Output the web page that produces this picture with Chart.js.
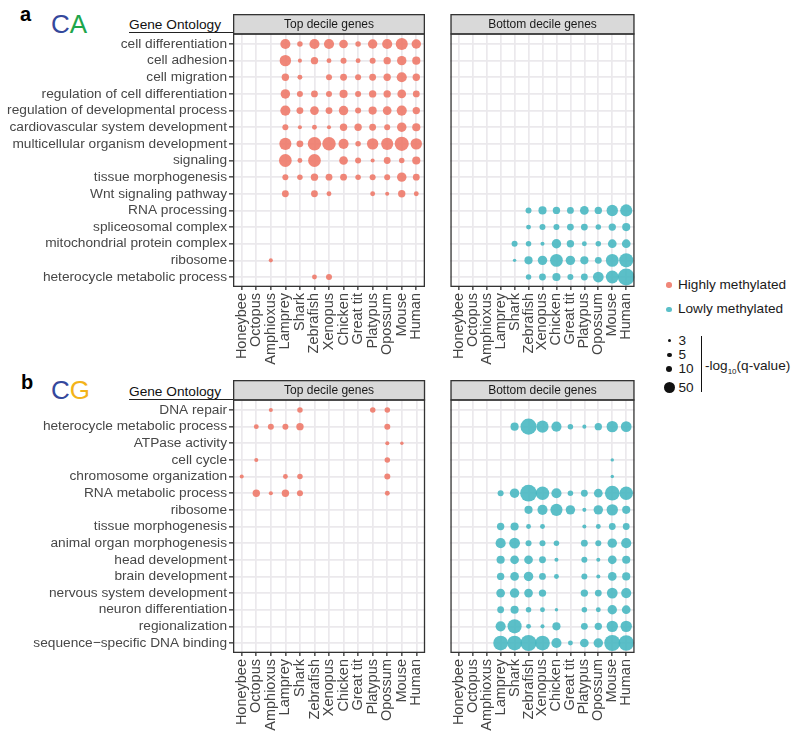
<!DOCTYPE html>
<html>
<head>
<meta charset="utf-8">
<script src="https://cdn.jsdelivr.net/npm/chart.js@4.4.1/dist/chart.umd.min.js"></script>
<style>
  body { margin: 0; background: #fff; width: 800px; height: 735px; position: relative; overflow: hidden;
         font-family: "Liberation Sans", Arial, sans-serif; }
  canvas { position: absolute; }
  .t { position: absolute; white-space: nowrap; }
  .dot { position: absolute; border-radius: 50%; }
</style>
</head>
<body>

<div class="t" style="left:20px;top:2px;font-size:20px;line-height:24px;font-weight:bold;">a</div>
<div class="t" style="left:51px;top:9px;font-size:26px;line-height:31px;"><span style="color:#34489c">C</span><span style="color:#1ea64c">A</span></div>
<div class="t" style="left:129px;top:17px;font-size:13.7px;line-height:16px;color:#111;">Gene Ontology</div>
<div class="t" style="left:129px;top:32px;width:104px;height:0;border-top:1.6px solid #222;"></div>

<div class="t" style="left:21px;top:370px;font-size:20px;line-height:24px;font-weight:bold;">b</div>
<div class="t" style="left:51px;top:375px;font-size:26px;line-height:31px;"><span style="color:#34489c">C</span><span style="color:#f3b319">G</span></div>
<div class="t" style="left:129px;top:384px;font-size:13.7px;line-height:16px;color:#111;">Gene Ontology</div>
<div class="t" style="left:129px;top:399px;width:104px;height:0;border-top:1.6px solid #222;"></div>

<canvas id="caTop" width="437" height="353" style="left:0;top:14px"></canvas>
<canvas id="caBottom" width="205" height="353" style="left:442px;top:14px"></canvas>
<canvas id="cgTop" width="437" height="353" style="left:0;top:380px"></canvas>
<canvas id="cgBottom" width="205" height="353" style="left:442px;top:380px"></canvas>

<div id="legend"></div>

<script>
const _ = null;

const species = ['Honeybee', 'Octopus', 'Amphioxus', 'Lamprey', 'Shark', 'Zebrafish', 'Xenopus',
  'Chicken', 'Great tit', 'Platypus', 'Opossum', 'Mouse', 'Human'];

const termsCA = ['cell differentiation', 'cell adhesion', 'cell migration', 'regulation of cell differentiation',
  'regulation of developmental process', 'cardiovascular system development', 'multicellular organism development',
  'signaling', 'tissue morphogenesis', 'Wnt signaling pathway', 'RNA processing', 'spliceosomal complex',
  'mitochondrial protein complex', 'ribosome', 'heterocycle metabolic process'];

const termsCG = ['DNA repair', 'heterocycle metabolic process', 'ATPase activity', 'cell cycle',
  'chromosome organization', 'RNA metabolic process', 'ribosome', 'tissue morphogenesis',
  'animal organ morphogenesis', 'head development', 'brain development', 'nervous system development',
  'neuron differentiation', 'regionalization', 'sequence\u2212specific DNA binding'];

// -log10(q-value) per term (row) and species (column), _ = not enriched
const caTop = [
  [_, _, _, 38, 8, 38, 38, 26, 8, 32, 38, 59, 32],
  [_, _, _, 51, 4, 17, 6, 10, 6, 10, 17, 32, 22],
  [_, _, _, 17, 6, _, 10, 14, 10, 14, 17, 38, 17],
  [_, _, _, 32, 10, 14, 10, 22, 10, 17, 17, 26, 14],
  [_, _, _, 38, 14, 26, 14, 32, 10, 22, 26, 38, 17],
  [_, _, _, 10, 4, 6, 4, 17, 17, 14, 10, 32, 22],
  [_, _, _, 59, 14, 76, 76, 38, 8, 51, 59, 85, 51],
  [_, _, _, 67, 6, 67, _, 26, 10, 4, 14, 8, 22],
  [_, _, _, 10, 8, 17, 14, 14, 8, 10, 10, 32, 14],
  [_, _, _, 14, _, 14, 6, _, _, 6, 4, 17, 6],
  [_, _, _, _, _, _, _, _, _, _, _, _, _],
  [_, _, _, _, _, _, _, _, _, _, _, _, _],
  [_, _, _, _, _, _, _, _, _, _, _, _, _],
  [_, _, 4, _, _, _, _, _, _, _, _, _, _],
  [_, _, _, _, _, 6, 10, _, _, _, _, _, _]
];

const caBottom = [
  [_, _, _, _, _, _, _, _, _, _, _, _, _],
  [_, _, _, _, _, _, _, _, _, _, _, _, _],
  [_, _, _, _, _, _, _, _, _, _, _, _, _],
  [_, _, _, _, _, _, _, _, _, _, _, _, _],
  [_, _, _, _, _, _, _, _, _, _, _, _, _],
  [_, _, _, _, _, _, _, _, _, _, _, _, _],
  [_, _, _, _, _, _, _, _, _, _, _, _, _],
  [_, _, _, _, _, _, _, _, _, _, _, _, _],
  [_, _, _, _, _, _, _, _, _, _, _, _, _],
  [_, _, _, _, _, _, _, _, _, _, _, _, _],
  [_, _, _, _, _, 10, 22, 17, 14, 26, 17, 51, 59],
  [_, _, _, _, _, 6, 10, 10, 14, 14, 8, 17, 22],
  [_, _, _, _, 10, 8, 4, 32, 17, 6, 8, 26, 26],
  [_, _, _, _, 3, 22, 32, 67, 32, 22, 14, 67, 85],
  [_, _, _, _, _, 8, 14, 22, 10, 14, 44, 67, 127]
];

const cgTop = [
  [_, _, 4, _, 8, _, _, _, _, 8, 8, _, _],
  [_, 6, 10, 10, 17, _, _, _, _, _, 10, _, _],
  [_, _, _, _, _, _, _, _, _, _, 4, 3, _],
  [_, 4, _, _, _, _, _, _, _, _, 8, _, _],
  [4, _, _, 6, 8, _, _, _, _, _, 10, _, _],
  [_, 17, 4, 17, 10, _, _, _, _, _, 6, _, _],
  [_, _, _, _, _, _, _, _, _, _, _, _, _],
  [_, _, _, _, _, _, _, _, _, _, _, _, _],
  [_, _, _, _, _, _, _, _, _, _, _, _, _],
  [_, _, _, _, _, _, _, _, _, _, _, _, _],
  [_, _, _, _, _, _, _, _, _, _, _, _, _],
  [_, _, _, _, _, _, _, _, _, _, _, _, _],
  [_, _, _, _, _, _, _, _, _, _, _, _, _],
  [_, _, _, _, _, _, _, _, _, _, _, _, _],
  [_, _, _, _, _, _, _, _, _, _, _, _, _]
];

const cgBottom = [
  [_, _, _, _, _, _, _, _, _, _, _, _, _],
  [_, _, _, _, 22, 115, 59, 38, 8, 4, 17, 51, 44],
  [_, _, _, _, _, _, _, _, _, _, _, _, _],
  [_, _, _, _, _, _, _, _, _, _, _, 3, _],
  [_, _, _, _, _, _, _, _, _, _, _, 3, _],
  [_, _, _, 10, 32, 127, 76, 38, 8, 14, 26, 94, 76],
  [_, _, _, _, _, 22, 38, 59, 32, 4, 32, 51, 22],
  [_, _, _, 17, 22, 6, 6, _, _, 4, 6, 14, 14],
  [_, _, _, 38, 44, 10, 10, 8, _, 14, 10, 32, 38],
  [_, _, _, 22, 26, 26, 14, 4, _, 10, 4, 26, 22],
  [_, _, _, 17, 26, 32, 14, 6, _, 10, 4, 26, 22],
  [_, _, _, 26, 32, 26, 17, _, _, 17, 14, 44, 38],
  [_, _, _, 14, 22, 8, 6, 3, _, 8, 6, 32, 26],
  [_, _, _, 38, 85, 6, 4, 22, _, 14, 17, 51, 51],
  [_, _, _, 94, 94, 115, 94, 38, 6, 26, 32, 115, 105]
];

const sizeBreaks = [3, 5, 10, 50];

const HIGH = 'rgba(238, 118, 102, 0.88)';
const LOW = 'rgba(68, 182, 192, 0.88)';
const FONT = '"Liberation Sans", Arial, sans-serif';

// area-ish size scale like ggplot scale_size
const radius = (v) => 1.25 + 0.64 * Math.sqrt(Math.max(v - 2.5, 0));

const facetPlugin = {
  id: 'facet',
  afterDraw(chart, args, opts) {
    const {ctx, chartArea: a} = chart;
    ctx.save();
    ctx.fillStyle = '#d9d9d9';
    ctx.fillRect(a.left, a.top - 20, a.right - a.left, 20);
    ctx.strokeStyle = '#333';
    ctx.lineWidth = 1.3;
    ctx.strokeRect(a.left + 0.65, a.top - 19.35, a.right - a.left - 1.3, 19.35);
    ctx.strokeRect(a.left + 0.65, a.top, a.right - a.left - 1.3, a.bottom - a.top - 0.65);
    ctx.fillStyle = '#1a1a1a';
    ctx.font = '12px ' + FONT;
    ctx.textAlign = 'center';
    ctx.textBaseline = 'middle';
    ctx.fillText(opts.title, (a.left + a.right) / 2, a.top - 9.5);
    ctx.restore();
  }
};

function makeChart(id, terms, rows, color, title, showY) {
  const points = [];
  rows.forEach((row, yi) => {
    row.forEach((v, xi) => {
      if (v !== null) points.push({x: xi, y: yi, r: radius(v)});
    });
  });

  return new Chart(document.getElementById(id), {
    type: 'bubble',
    data: {
      datasets: [{
        data: points,
        backgroundColor: color,
        borderWidth: 0,
        clip: 0
      }]
    },
    options: {
      responsive: false,
      animation: false,
      events: [],
      layout: {padding: {top: 20, left: 0, right: 0, bottom: 0}},
      plugins: {
        legend: {display: false},
        tooltip: {enabled: false},
        facet: {title}
      },
      scales: {
        x: {
          type: 'linear',
          bounds: 'data',
          min: -0.6,
          max: species.length - 0.4,
          afterBuildTicks: (s) => { s.ticks = species.map((n, i) => ({value: i})); },
          afterFit: (s) => { s.height = 80; },
          ticks: {
            autoSkip: false,
            minRotation: 90,
            maxRotation: 90,
            padding: 3,
            color: '#444',
            font: {family: FONT, size: 14.5},
            callback: (v) => species[v]
          },
          grid: {color: '#ebe9ec', lineWidth: 1.7, tickColor: '#333', tickLength: 3, tickWidth: 1.3},
          border: {display: false}
        },
        y: {
          type: 'linear',
          bounds: 'data',
          reverse: true,
          min: -0.6,
          max: terms.length - 0.4,
          afterBuildTicks: (s) => { s.ticks = terms.map((n, i) => ({value: i})); },
          afterFit: (s) => { s.width = showY ? 233 : 0; },
          ticks: {
            display: showY,
            autoSkip: false,
            padding: 2,
            color: '#474747',
            font: {family: FONT, size: 13.7},
            callback: (v) => terms[v]
          },
          grid: {color: '#ebe9ec', lineWidth: 1.7, drawTicks: showY, tickColor: '#333', tickLength: 4, tickWidth: 1.3},
          border: {display: false}
        }
      }
    },
    plugins: [facetPlugin]
  });
}

makeChart('caTop', termsCA, caTop, HIGH, 'Top decile genes', true);
makeChart('caBottom', termsCA, caBottom, LOW, 'Bottom decile genes', false);
makeChart('cgTop', termsCG, cgTop, HIGH, 'Top decile genes', true);
makeChart('cgBottom', termsCG, cgBottom, LOW, 'Bottom decile genes', false);

// legend
const legend = document.getElementById('legend');
function addDot(cx, cy, r, color) {
  const d = document.createElement('div');
  d.className = 'dot';
  d.style.cssText = `left:${cx - r}px;top:${cy - r}px;width:${2 * r}px;height:${2 * r}px;background:${color}`;
  legend.appendChild(d);
}
function addText(x, cy, txt, size, extra) {
  const d = document.createElement('div');
  d.className = 't';
  d.style.cssText = `left:${x}px;top:${cy - size * 0.6}px;font-size:${size}px;line-height:${size * 1.2}px;color:#1a1a1a;${extra || ''}`;
  d.innerHTML = txt;
  legend.appendChild(d);
}

addDot(669, 285, 2.7, HIGH);
addText(678, 285, 'Highly methylated', 13.6);
addDot(669, 309.5, 2.7, LOW);
addText(678, 309.5, 'Lowly methylated', 13.6);

const sizeY = [340.7, 355, 369.3, 387.7];
sizeBreaks.forEach((v, i) => {
  addDot(669.5, sizeY[i], radius(v), '#111');
  addText(678.5, sizeY[i], String(v), 13.6);
});
const bar = document.createElement('div');
bar.className = 't';
bar.style.cssText = 'left:700.5px;top:336px;width:0;height:56px;border-left:1.5px solid #111;';
legend.appendChild(bar);
addText(705, 366, '-log<sub style="font-size:8px;line-height:0">10</sub>(q-value)', 13.6);
</script>
</body>
</html>
